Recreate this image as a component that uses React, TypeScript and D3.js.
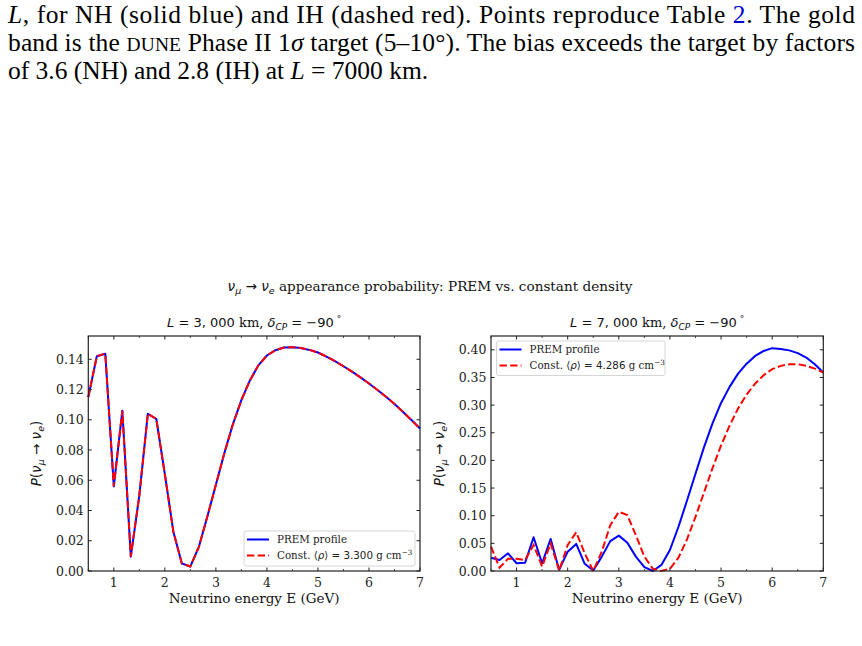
import React from 'react';
import * as d3 from 'd3';

// energy grid (GeV), 40 points from 0.5 to 7
const energy = [
  0.5, 0.667, 0.833, 1.0, 1.167, 1.333, 1.5, 1.667, 1.833, 2.0,
  2.167, 2.333, 2.5, 2.667, 2.833, 3.0, 3.167, 3.333, 3.5, 3.667,
  3.833, 4.0, 4.167, 4.333, 4.5, 4.667, 4.833, 5.0, 5.167, 5.333,
  5.5, 5.667, 5.833, 6.0, 6.167, 6.333, 6.5, 6.667, 6.833, 7.0,
];

// L = 3000 km
const prem3000 = [
  0.115, 0.142, 0.1437, 0.056, 0.106, 0.0095, 0.05, 0.104, 0.1005, 0.064,
  0.026, 0.005, 0.003, 0.016, 0.036, 0.057, 0.078, 0.097, 0.113, 0.126,
  0.136, 0.1425, 0.146, 0.1478, 0.148, 0.1475, 0.1462, 0.1445, 0.1418, 0.1388,
  0.1354, 0.1318, 0.128, 0.124, 0.1197, 0.1152, 0.1105, 0.1052, 0.0998, 0.0942,
];
const const3000 = [
  0.115, 0.142, 0.1437, 0.056, 0.106, 0.0095, 0.05, 0.104, 0.1005, 0.064,
  0.026, 0.005, 0.003, 0.016, 0.036, 0.057, 0.078, 0.097, 0.113, 0.126,
  0.136, 0.1425, 0.146, 0.1478, 0.148, 0.1475, 0.1462, 0.1445, 0.1418, 0.1388,
  0.1354, 0.1318, 0.128, 0.124, 0.1197, 0.1152, 0.1105, 0.1052, 0.0998, 0.0942,
];

// L = 7000 km
const prem7000 = [
  0.024, 0.02, 0.032, 0.014, 0.015, 0.061, 0.014, 0.058, 0.002, 0.035,
  0.049, 0.013, 0.001, 0.026, 0.054, 0.064, 0.051, 0.026, 0.007, 0.0,
  0.011, 0.038, 0.08, 0.127, 0.176, 0.224, 0.267, 0.304, 0.333, 0.357,
  0.375, 0.389, 0.398, 0.403, 0.4015, 0.399, 0.394, 0.386, 0.374, 0.359,
];
const const7000 = [
  0.044, 0.006, 0.022, 0.022, 0.02, 0.047, 0.008, 0.05, 0.001, 0.047,
  0.07, 0.032, 0.0, 0.035, 0.083, 0.107, 0.101, 0.065, 0.026, 0.004,
  0.0, 0.004, 0.024, 0.057, 0.098, 0.142, 0.186, 0.227, 0.263, 0.294,
  0.319, 0.339, 0.354, 0.365, 0.371, 0.374, 0.374, 0.371, 0.366, 0.359,
];

const baselines = ['3, 000', '7, 000'];
const densities = ['3.300', '4.286'];
const xLabel = 'Neutrino energy E (GeV)';
const supTitle = 'appearance probability: PREM vs. constant density';
const seriesNames = ['PREM profile', 'Const.'];

const serif = "'DejaVu Serif', serif";
const sans = "'DejaVu Sans', sans-serif";
const paper = "'Liberation Serif', 'Times New Roman', serif";

type PanelProps = {
  left: number;
  right: number;
  top: number;
  bottom: number;
  yMax: number;
  yCount: number;
  prem: number[];
  cnst: number[];
  dist: string;
  density: string;
  legend: { x: number; y: number; w: number; h: number };
};

function Legend({ x, y, w, h, density }: { x: number; y: number; w: number; h: number; density: string }) {
  const rows = [y + 8.5, y + 24.5];
  return (
    <g>
      <rect x={x} y={y} width={w} height={h} rx={2} fill="white" fillOpacity={0.8} stroke="#cccccc" strokeWidth={0.8} />
      <line x1={x + 3} x2={x + 25} y1={rows[0]} y2={rows[0]} stroke="#0000ff" strokeWidth={2} />
      <line x1={x + 3} x2={x + 25} y1={rows[1]} y2={rows[1]} stroke="#ff0000" strokeWidth={2} strokeDasharray="7.4,3.2" />
      <text x={x + 33} y={rows[0] + 3.6} fontFamily={serif} fontSize={10.3} fill="#222">{seriesNames[0]}</text>
      <text x={x + 33} y={rows[1] + 3.6} fontFamily={serif} fontSize={10.3} fill="#222">
        {seriesNames[1]} ⟨<tspan fontFamily={sans} fontStyle="italic">ρ</tspan>⟩<tspan fontFamily={sans}> = {density}</tspan> g cm
        <tspan fontSize={7.2} dy={-4}>−3</tspan>
      </text>
    </g>
  );
}

function Panel({ left, right, top, bottom, yMax, yCount, prem, cnst, dist, density, legend }: PanelProps) {
  const x = d3.scaleLinear().domain([0.5, 7]).range([left, right]);
  const y = d3.scaleLinear().domain([0, yMax]).range([bottom, top]);
  const line = d3
    .line<number>()
    .x((_, i) => x(energy[i]))
    .y((d) => y(d));
  const xMajor = x.ticks(7);
  const xMinor = x.ticks(14).filter((t) => !xMajor.includes(t));
  const yMajor = y.ticks(yCount);
  const fmt = d3.format('.2f');
  const cx = (left + right) / 2;
  const cy = (top + bottom) / 2;
  const ink = '#222';
  return (
    <g>
      <path d={line(prem) || ''} fill="none" stroke="#0000ff" strokeWidth={2} strokeLinejoin="round" />
      <path d={line(cnst) || ''} fill="none" stroke="#ff0000" strokeWidth={2} strokeDasharray="7.4,3.2" />
      {xMajor.map((t) => (
        <g key={'xm' + t}>
          <line x1={x(t)} x2={x(t)} y1={bottom} y2={bottom - 3.5} stroke={ink} />
          <line x1={x(t)} x2={x(t)} y1={top} y2={top + 3.5} stroke={ink} />
          <text x={x(t)} y={bottom + 15.5} textAnchor="middle" fontFamily={serif} fontSize={12.5} fill={ink}>{t}</text>
        </g>
      ))}
      {xMinor.map((t) => (
        <g key={'xn' + t}>
          <line x1={x(t)} x2={x(t)} y1={bottom} y2={bottom - 2} stroke={ink} strokeWidth={0.8} />
          <line x1={x(t)} x2={x(t)} y1={top} y2={top + 2} stroke={ink} strokeWidth={0.8} />
        </g>
      ))}
      {yMajor.map((t) => (
        <g key={'y' + t}>
          <line x1={left} x2={left + 3.5} y1={y(t)} y2={y(t)} stroke={ink} />
          <line x1={right} x2={right - 3.5} y1={y(t)} y2={y(t)} stroke={ink} />
          <text x={left - 4.5} y={y(t) + 4.5} textAnchor="end" fontFamily={serif} fontSize={12.5} fill={ink}>{fmt(t)}</text>
        </g>
      ))}
      <rect x={left} y={top} width={right - left} height={bottom - top} fill="none" stroke={ink} strokeWidth={1.2} />
      <Legend {...legend} density={density} />
      <text x={cx} y={top - 9} textAnchor="middle" fontFamily={sans} fontSize={13} fill="#111">
        <tspan fontStyle="italic">L</tspan> = {dist} <tspan fontFamily={serif}>km, </tspan>
        <tspan fontStyle="italic">δ</tspan>
        <tspan fontStyle="italic" fontSize={9} dy={2.5}>CP</tspan>
        <tspan dy={-2.5}> = −90</tspan>
        <tspan fontSize={9} dy={-5}> °</tspan>
      </text>
      <text x={cx} y={bottom + 32} textAnchor="middle" fontFamily={serif} fontSize={13.5} fill="#111">{xLabel}</text>
      <text transform={`translate(${left - 47},${cy}) rotate(-90)`} textAnchor="middle" fontFamily={sans} fontSize={13.5} fill="#111">
        <tspan fontStyle="italic">P</tspan>(<tspan fontStyle="italic">ν</tspan>
        <tspan fontStyle="italic" fontSize={9.5} dy={2.8}>μ</tspan>
        <tspan dy={-2.8}> → </tspan>
        <tspan fontStyle="italic">ν</tspan>
        <tspan fontStyle="italic" fontSize={9.5} dy={2.8}>e</tspan>
        <tspan dy={-2.8}>)</tspan>
      </text>
    </g>
  );
}

export default function App() {
  return (
    <svg width={862} height={646} style={{ position: 'absolute', left: 0, top: 0, background: 'white' }}>
      <rect width={862} height={646} fill="white" />
      <g fontFamily={paper} fontSize={25.5} fill="#000">
        <text x={8} y={23} textLength={847} lengthAdjust="spacing">
          <tspan fontStyle="italic">L</tspan>, for NH (solid blue) and IH (dashed red). Points reproduce Table <tspan fill="#0000cc">2</tspan>. The gold
        </text>
        <text x={8} y={50.5} textLength={847} lengthAdjust="spacing">
          band is the <tspan fontSize={19.5}>DUNE</tspan> Phase II 1<tspan fontStyle="italic">σ</tspan> target (5–10°). The bias exceeds the target by factors
        </text>
        <text x={8} y={78.5}>
          of 3.6 (NH) and 2.8 (IH) at <tspan fontStyle="italic">L</tspan> = 7000 km.
        </text>
      </g>
      <text x={430} y={291} textAnchor="middle" fontFamily={serif} fontSize={13.6} fill="#111">
        <tspan fontFamily={sans} fontStyle="italic">ν</tspan>
        <tspan fontFamily={sans} fontStyle="italic" fontSize={9.5} dy={2.5}>μ</tspan>
        <tspan fontFamily={sans} dy={-2.5}> → </tspan>
        <tspan fontFamily={sans} fontStyle="italic">ν</tspan>
        <tspan fontFamily={sans} fontStyle="italic" fontSize={9.5} dy={2.5}>e</tspan>
        <tspan dy={-2.5}> {supTitle}</tspan>
      </text>
      <Panel
        left={88.3}
        right={420}
        top={336}
        bottom={571}
        yMax={0.1554}
        yCount={8}
        prem={prem3000}
        cnst={const3000}
        dist={baselines[0]}
        density={densities[0]}
        legend={{ x: 244, y: 531, w: 171, h: 35 }}
      />
      <Panel
        left={491}
        right={823.3}
        top={336}
        bottom={571}
        yMax={0.425}
        yCount={9}
        prem={prem7000}
        cnst={const7000}
        dist={baselines[1]}
        density={densities[1]}
        legend={{ x: 496.5, y: 341, w: 168.5, h: 34.5 }}
      />
    </svg>
  );
}
